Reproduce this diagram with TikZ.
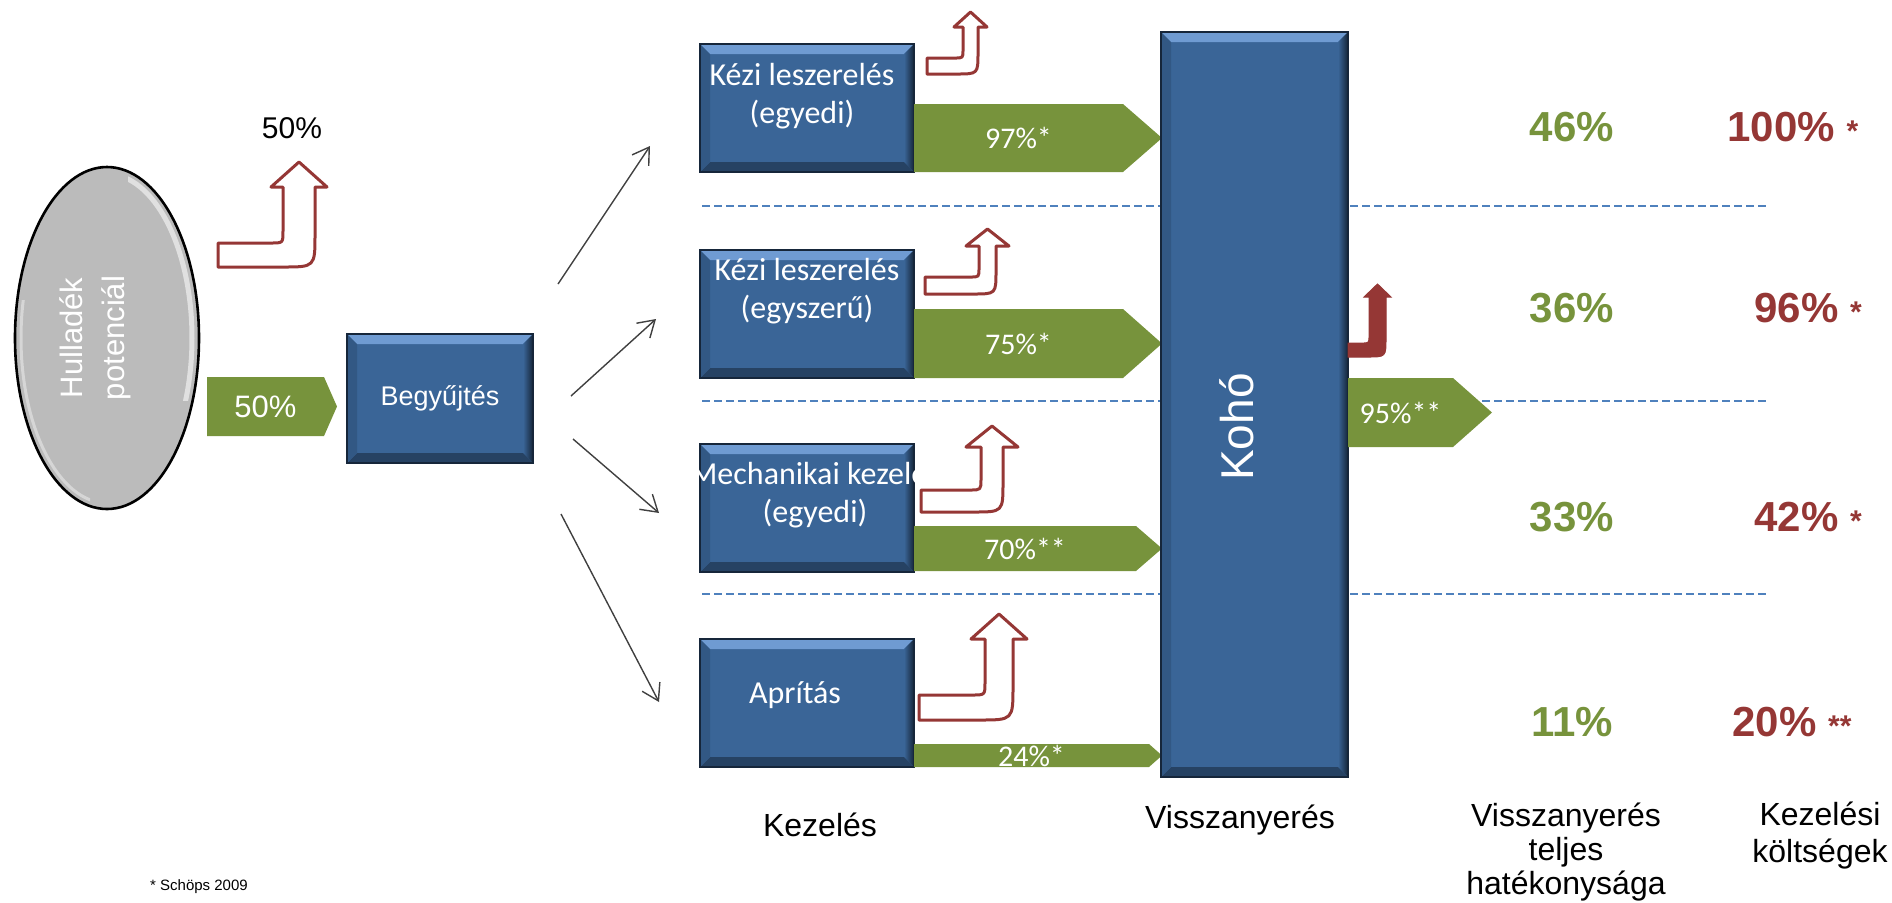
\documentclass[tikz,border=0pt]{standalone}
\usepackage{fontspec}
\setmainfont{Liberation Sans}
\newfontfamily\calibri{Carlito}
\usetikzlibrary{arrows.meta,shapes.geometric}

\definecolor{boxblue}{HTML}{3A6597}
\definecolor{boxedge}{HTML}{16263A}
\definecolor{bevlight}{HTML}{6F9BD2}
\definecolor{bevdark}{HTML}{152538}
\definecolor{flowgreen}{HTML}{77933C}
\definecolor{lossred}{HTML}{953735}
\definecolor{sepblue}{HTML}{4F81BD}
\definecolor{potgray}{HTML}{BBBBBB}

\tikzset{
	bevel/.style={path picture={
		\path (path picture bounding box.north west) coordinate (bnw)
			(path picture bounding box.north east) coordinate (bne)
			(path picture bounding box.south west) coordinate (bsw)
			(path picture bounding box.south east) coordinate (bse);
		\fill[bevlight] (bnw) -- (bne) -- ([shift={(-5pt,-5pt)}]bne) -- ([shift={(5pt,-5pt)}]bnw) -- cycle;
		\shade[left color=boxblue, right color=bevdark] (bne) -- (bse) -- ([shift={(-5pt,5pt)}]bse) -- ([shift={(-5pt,-5pt)}]bne) -- cycle;
		\fill[bevdark!55!boxblue] (bse) -- (bsw) -- ([shift={(5pt,5pt)}]bsw) -- ([shift={(-5pt,5pt)}]bse) -- cycle;
		\fill[boxblue!80!bevdark] (bsw) -- (bnw) -- ([shift={(5pt,-5pt)}]bnw) -- ([shift={(5pt,5pt)}]bsw) -- cycle;
	}},
	bluebox/.style={draw=boxedge, line width=1pt, fill=boxblue, bevel, inner sep=0pt},
	treat/.style={bluebox, minimum width=107pt, minimum height=64pt},
	boxtext/.style={text=white, font=\calibri\fontsize{16}{19}\selectfont, align=center, inner sep=0pt},
	flowtext/.style={text=white, font=\calibri\fontsize{15}{18}\selectfont, inner sep=0pt},
	eff/.style={text=flowgreen, font=\bfseries\fontsize{21}{25}\selectfont, inner sep=0pt},
	cost/.style={text=lossred, font=\bfseries\fontsize{21}{25}\selectfont, inner sep=0pt, anchor=west},
	colhead/.style={font=\fontsize{16}{17}\selectfont, align=center, inner sep=0pt},
	loss/.style={draw=lossred, fill=white, line width=1.5pt, line join=round},
	fan/.style={draw=black!75, line width=0.7pt, -{Straight Barb[length=8pt,width=10pt]}},
	sep/.style={draw=sepblue, line width=0.75pt, dash pattern=on 4pt off 2pt}
}

% bent up arrow: [style] left, bottom, thickness, shaft left, shaft right, head base, head overhang, tip
\newcommand{\bentup}[9][loss]{
	\draw[#1] (#2,#3) -- (#2,{#3-#4}) -- ({#5-#4*0.5},{#3-#4}) .. controls (#5,{#3-#4}) .. (#5,{#3-#4*1.5})
		-- (#5,#7) -- ({#5-#8},#7) -- ({(#5+#6)/2},#9) -- ({#6+#8},#7) -- (#6,#7)
		-- (#6,{#3-#4*1.35}) .. controls (#6,#3) .. ({#6-#4*1.35},#3) -- cycle;
}

% green flow: [text style] name, left, top, bottom, tip start, tip, text
\newcommand{\flowarrow}[8][flowtext]{
	\fill[flowgreen] (#3,#4) -- (#6,#4) -- (#7,{(#4+#5)/2}) -- (#6,#5) -- (#3,#5) -- cycle;
	\node (#2) [#1] at ({(#3+#6)/2},{(#4+#5)/2}) {#8};
}

\begin{document}
\begin{tikzpicture}[x=0.5pt, y=-0.5pt]
	\useasboundingbox (0,0) rectangle (1892,902);

	%separators
	\foreach \y in {206, 401, 594}{
		\draw[sep] (702,\y) -- (1768,\y);
	}

	%waste potential
	\node (pot) [ellipse, draw=black, line width=1.3pt, fill=potgray, minimum width=92pt, minimum height=171pt, inner sep=0pt] at (107,338) {};
	\begin{scope}
		\clip (128,160) rectangle (210,400);
		\draw[white, line width=2.5pt, opacity=.55] (pot.center) ellipse [x radius=85, y radius=164];
	\end{scope}
	\begin{scope}
		\clip (0,300) rectangle (90,520);
		\draw[white, line width=1.5pt, opacity=.4] (pot.center) ellipse [x radius=86, y radius=165];
	\end{scope}
	\node (pottext) [text=white, rotate=90, align=center, font=\fontsize{15.5}{21}\selectfont] at (95,338) {Hullad\'ek\\potenci\'al};

	\node (lost) [font=\fontsize{15}{18}\selectfont] at (292,128) {50\%};
	\bentup{218}{267}{24}{283}{315}{187}{12}{162}

	\flowarrow[flowtext, font=\fontsize{15.5}{18}\selectfont]{f50}{207}{377}{436}{324}{337}{50\%}

	\node (coll) [bluebox, minimum width=93pt, minimum height=64.5pt, text=white, font=\fontsize{13.5}{16}\selectfont] at (440,398.5) {Begy\H{u}jt\'es};

	%fan out
	\foreach \i/\sx/\sy/\ex/\ey in {1/558/284/650/146, 2/571/396/656/319, 3/573/439/659/513, 4/561/514/659/702}{
		\coordinate (s\i) at (\sx,\sy);
		\coordinate (e\i) at (\ex,\ey);
		\draw[fan] (s\i) -- (e\i);
	}

	%treatment
	\bentup{927}{74}{16}{963}{978}{27}{9}{12}
	\bentup{925}{294}{17}{979}{996}{246}{13}{229}
	\bentup{921}{512}{22}{981}{1003}{447}{15}{426}
	\bentup{919}{720}{25}{985}{1013}{639}{14}{614}

	\node (k1) [treat] at (807,108) {};
	\node (k2) [treat] at (807,314) {};
	\node (m1) [treat] at (807,508) {};
	\node (ap) [treat] at (807,703) {};
	\node (k1t) [boxtext] at (802,96) {K\'ezi leszerel\'es\\(egyedi)};
	\node (k2t) [boxtext] at (807,291) {K\'ezi leszerel\'es\\(egyszer\H{u})};
	\begin{scope}
		\clip (m1.north west) rectangle (m1.south east);
		\node (m1t) [boxtext] at (815,495) {Mechanikai kezel\'es\\(egyedi)};
	\end{scope}
	\node (apt) [boxtext] at (795,695) {Apr\'it\'as};

	\flowarrow{f1}{914}{104}{172}{1123}{1162}{97\%*}
	\flowarrow{f2}{914}{309}{378}{1123}{1162}{75\%*}
	\flowarrow{f3}{914}{526}{571}{1136}{1162}{70\%**}
	\flowarrow{f4}{914}{744}{767}{1149}{1162}{24\%*}

	%smelter
	\node (koho) [bluebox, minimum width=93.5pt, minimum height=372.5pt] at (1254.5,404.5) {};
	\node (kohotext) [text=white, rotate=90, font=\fontsize{23}{26}\selectfont] at (1237,427) {Koh\'o};
	\bentup[fill=lossred, draw=lossred, line width=0.5pt]{1348}{357}{14}{1369}{1386}{297}{5}{284}
	\flowarrow{f95}{1348}{378}{447}{1453}{1492}{95\%**}

	%results
	\node (e46) [eff] at (1572,127) {46\%};
	\node (e36) [eff] at (1572,308) {36\%};
	\node (e33) [eff] at (1572,517) {33\%};
	\node (e11) [eff] at (1572,722) {11\%};
	\node (c100) [cost] at (1727,127) {100\% {\fontsize{15}{15}\selectfont *}};
	\node (c96) [cost] at (1754,308) {96\% {\fontsize{15}{15}\selectfont *}};
	\node (c42) [cost] at (1754,517) {42\% {\fontsize{15}{15}\selectfont *}};
	\node (c20) [cost] at (1732,722) {20\% {\fontsize{15}{15}\selectfont **}};

	%column heads
	\node (hkez) [colhead] at (820,825) {Kezel\'es};
	\node (hvis) [colhead] at (1240,820) {Visszanyer\'es};
	\node (hteljes) [colhead] at (1566,852) {Visszanyer\'es\\teljes\\hat\'ekonys\'aga};
	\node (hkolt) [colhead, font=\fontsize{16}{18.5}\selectfont] at (1820,836) {Kezel\'esi\\k\"olts\'egek};

	\node (src) [font=\fontsize{7.5}{9}\selectfont] at (199,887) {* Sch\"ops 2009};
\end{tikzpicture}
\end{document}
